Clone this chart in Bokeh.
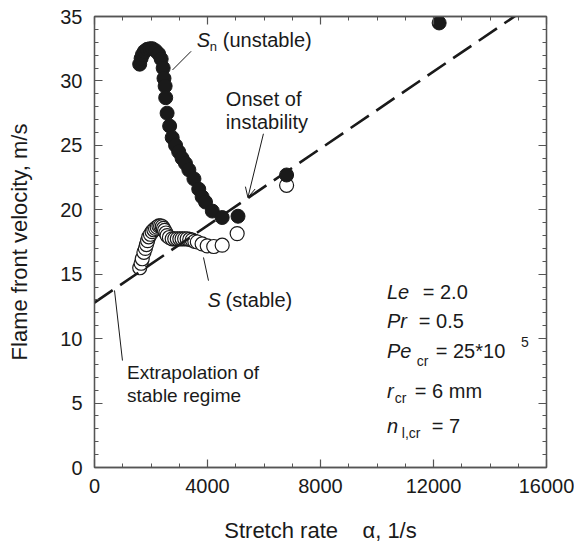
from bokeh.plotting import figure
from bokeh.models import LinearAxis, Range1d, SingleIntervalTicker, Arrow, OpenHead, Label
from bokeh.embed import file_html
from bokeh.resources import INLINE

# Unstable regime S_n (filled circles)
unstable_x = [1600, 1650, 1700, 1770, 1860, 1960, 2050, 2160, 2270, 2360, 2430, 2460, 2500,
              2520, 2570, 2660, 2750, 2870, 2980, 3100, 3220, 3340, 3520, 3690, 3810, 3930,
              4170, 4520, 5080, 6800, 12200]
unstable_y = [31.3, 31.75, 32.05, 32.3, 32.45, 32.5, 32.5, 32.35, 32.1, 31.7, 31.0, 30.2, 29.6,
              28.7, 27.5, 26.5, 25.6, 25.0, 24.5, 24.0, 23.6, 23.1, 22.4, 21.6, 21.0, 20.6,
              19.9, 19.4, 19.5, 22.7, 34.5]

# Stable regime S (open circles)
stable_x = [1600, 1650, 1690, 1750, 1800, 1840, 1880, 1920, 1980, 2040, 2100, 2160, 2220, 2280,
            2340, 2400, 2440, 2480, 2530, 2570, 2650, 2750, 2840, 2930, 3020, 3100, 3190, 3280,
            3370, 3460, 3550, 3640, 3810, 3990, 4220, 4520, 5050, 6800]
stable_y = [15.5, 15.85, 16.2, 16.7, 17.0, 17.3, 17.6, 17.9, 18.1, 18.3, 18.45, 18.55, 18.65, 18.75,
            18.75, 18.7, 18.55, 18.4, 18.2, 18.0, 17.85, 17.75, 17.75, 17.75, 17.75, 17.75, 17.75, 17.75,
            17.7, 17.65, 17.55, 17.5, 17.35, 17.2, 17.15, 17.25, 18.15, 21.9]

# Extrapolation of stable regime (dashed line)
extrap_x = [0, 16000]
extrap_y = [12.8, 36.7]

x_ticks_interval = 4000
y_ticks_interval = 5

FONT = "Liberation Sans"
INK = "#1a1a1a"
AXC = "#555555"

p = figure(width=574, height=551, x_range=Range1d(0, 16000), y_range=Range1d(0, 35),
           output_backend="svg", toolbar_location=None,
           min_border_left=94, min_border_right=28, min_border_top=16, min_border_bottom=84)
p.xgrid.visible = False
p.ygrid.visible = False
p.outline_line_color = AXC
p.outline_line_width = 1.3
p.background_fill_color = "white"
p.border_fill_color = "white"

def style_axis(ax, ticker, show_labels):
    ax.ticker = ticker
    ax.axis_line_color = AXC
    ax.axis_line_width = 1.3
    ax.major_tick_line_color = AXC
    ax.minor_tick_line_color = AXC
    ax.major_tick_line_width = 1.2
    ax.minor_tick_line_width = 1.0
    ax.major_tick_in = 8
    ax.major_tick_out = 0
    ax.minor_tick_in = 4
    ax.minor_tick_out = 0
    ax.major_label_text_font = FONT
    ax.axis_label_text_font = FONT
    ax.axis_label_text_color = INK
    ax.axis_label_text_font_style = "normal"
    if show_labels:
        ax.major_label_text_font_size = "20px"
        ax.major_label_text_color = INK
    else:
        ax.major_label_text_font_size = "0px"
        ax.major_label_text_color = None
        ax.major_label_standoff = 0

xt = SingleIntervalTicker(interval=x_ticks_interval, num_minor_ticks=4)
yt = SingleIntervalTicker(interval=y_ticks_interval, num_minor_ticks=5)

style_axis(p.xaxis[0], xt, True)
style_axis(p.yaxis[0], yt, True)
p.xaxis[0].axis_label = "Stretch rate \u00a0\u00a0\u00a0\u03b1, 1/s"
p.yaxis[0].axis_label = "Flame front velocity, m/s"
p.xaxis[0].axis_label_text_font_size = "22px"
p.yaxis[0].axis_label_text_font_size = "22px"
p.xaxis[0].major_label_standoff = 11
p.yaxis[0].major_label_standoff = 12
p.xaxis[0].axis_label_standoff = 22
p.yaxis[0].axis_label_standoff = 25

top_ax = LinearAxis()
style_axis(top_ax, SingleIntervalTicker(interval=x_ticks_interval, num_minor_ticks=4), False)
p.add_layout(top_ax, "above")
right_ax = LinearAxis()
style_axis(right_ax, SingleIntervalTicker(interval=y_ticks_interval, num_minor_ticks=5), False)
p.add_layout(right_ax, "right")

# markers
p.scatter(stable_x, stable_y, size=14, marker="circle", fill_color="white",
          line_color=INK, line_width=1.2)
p.line(extrap_x, extrap_y, line_color=INK, line_width=2.6, line_dash="22 9")
p.scatter(unstable_x, unstable_y, size=14, marker="circle", fill_color=INK,
          line_color=INK, line_width=1.0)

def lab(x, y, text, size="20px", style="normal"):
    p.add_layout(Label(x=x, y=y, text=text, text_font=FONT, text_font_size=size,
                       text_font_style=style, text_color=INK, text_baseline="alphabetic",
                       text_align="left"))

# S_n (unstable)
lab(3620, 33.15, "S", style="italic")
lab(4080, 32.68, "n", size="13px")
lab(4540, 33.15, "(unstable)")
p.line([3420, 2761], [32.3, 30.85], line_color=INK, line_width=1.0)

# Onset of instability
lab(4650, 28.6, "Onset of")
lab(4650, 26.8, "instability")
p.add_layout(Arrow(x_start=5980, y_start=25.9, x_end=5430, y_end=20.95,
                   line_color=INK, line_width=1.0,
                   end=OpenHead(size=10, line_color=INK, line_width=1.0)))

# S (stable)
lab(4000, 13.0, "S", style="italic")
lab(4640, 13.0, "(stable)")
p.line([3858, 4035], [16.30, 14.5], line_color=INK, line_width=1.0)

# Extrapolation
lab(1150, 7.4, "Extrapolation of", size="19px")
lab(1150, 5.62, "stable regime", size="19px")
p.line([708, 990], [13.74, 8.3], line_color=INK, line_width=1.0)

# Parameters block
lab(10350, 13.65, "Le", style="italic")
lab(11620, 13.65, "= 2.0")
lab(10350, 11.35, "Pr", style="italic")
lab(11480, 11.35, "= 0.5")
lab(10350, 9.05, "Pe", style="italic")
lab(11410, 8.27, "cr", size="14px")
lab(12080, 9.05, "= 25*10")
lab(15100, 9.74, "5", size="14px")
lab(10350, 5.95, "r", style="italic")
lab(10630, 5.41, "cr", size="14px")
lab(11340, 5.95, "= 6 mm")
lab(10350, 3.22, "n", style="italic")
lab(10880, 2.67, "l,cr", size="14px")
lab(11940, 3.22, "= 7")

open("out.html", "w").write(file_html(p, INLINE))
